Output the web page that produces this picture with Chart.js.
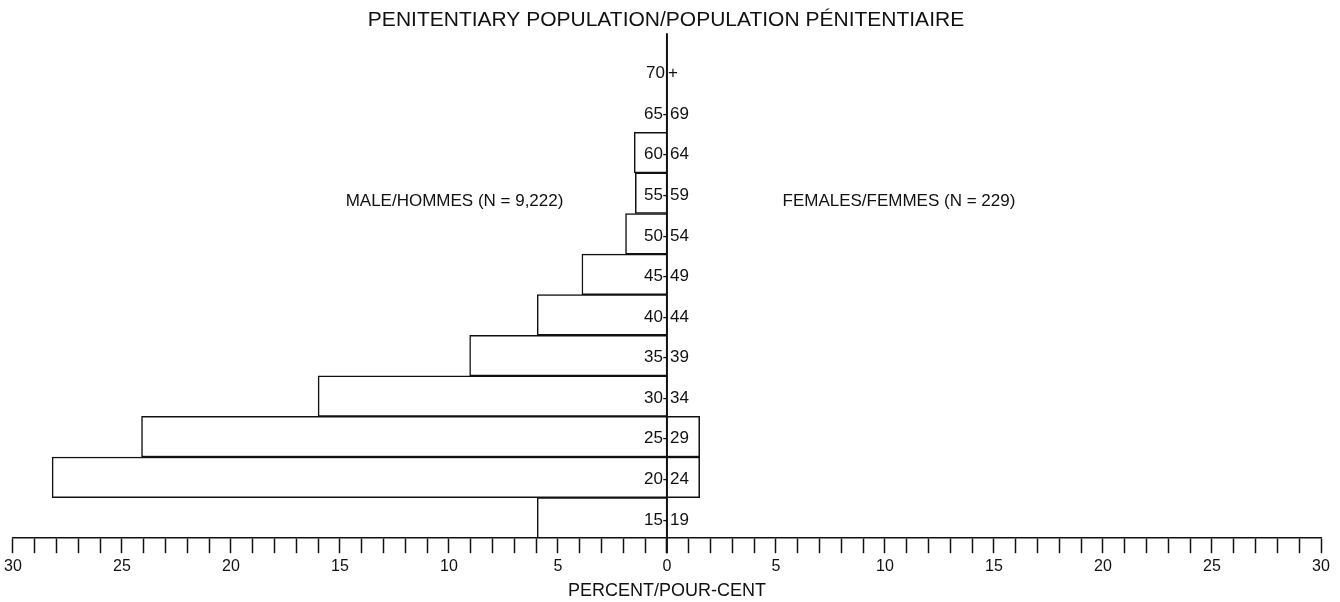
<!DOCTYPE html>
<html>
<head>
<meta charset="utf-8">
<title>Penitentiary population</title>
<script src="https://cdn.jsdelivr.net/npm/chart.js"></script>
<style>
  body { margin: 0; background: #fff; }
</style>
</head>
<body>
<canvas id="chart" width="1340" height="602"></canvas>
<script>
// age groups, top to bottom
const ageGroups = ['70+', '65-69', '60-64', '55-59', '50-54', '45-49', '40-44', '35-39', '30-34', '25-29', '20-24', '15-19'];
// percent of population
const malePercent = [0, 0, 1.5, 1.45, 1.9, 3.9, 5.95, 9.05, 16.0, 24.1, 28.2, 5.95];
const femalePercent = [0, 0, 0, 0, 0, 0, 0, 0, 0, 1.5, 1.5, 0];

const maleLabel = 'MALE/HOMMES (N = 9,222)';
const femaleLabel = 'FEMALES/FEMMES (N = 229)';

const FONT = '"Liberation Sans", Arial, Helvetica, sans-serif';
const INK = '#111';

// center line, age labels and the two group labels
const pyramidText = {
    id: 'pyramidText',
    afterDatasetsDraw(chart) {
        const ctx = chart.ctx;
        const x = chart.scales.x;
        const y = chart.scales.y;
        const cx = x.getPixelForValue(0);
        const area = chart.chartArea;

        ctx.save();
        ctx.strokeStyle = INK;
        ctx.lineWidth = 2;
        ctx.beginPath();
        ctx.moveTo(cx, area.top - 18);
        ctx.lineTo(cx, area.bottom + 15);
        ctx.stroke();

        ctx.fillStyle = INK;
        ctx.font = '17px ' + FONT;
        ctx.textBaseline = 'middle';
        ageGroups.forEach((g, i) => {
            const py = y.getPixelForValue(i) + 2;
            if (g.indexOf('-') > 0) {
                const parts = g.split('-');
                ctx.textAlign = 'right';
                ctx.fillText(parts[0], cx - 4, py);
                ctx.textAlign = 'center';
                ctx.fillText('-', cx - 1.5, py);
                ctx.textAlign = 'left';
                ctx.fillText(parts[1], cx + 3, py);
            } else {
                ctx.textAlign = 'right';
                ctx.fillText(g.replace('+', ''), cx - 2, py);
                ctx.textAlign = 'left';
                ctx.fillText('+', cx + 1, py);
            }
        });

        const ly = y.getPixelForValue(ageGroups.indexOf('55-59')) + 8;
        ctx.textAlign = 'right';
        ctx.fillText(maleLabel, x.getPixelForValue(-4.75), ly);
        ctx.textAlign = 'left';
        ctx.fillText(femaleLabel, x.getPixelForValue(5.3), ly);
        ctx.restore();
    }
};

const ctx = document.getElementById('chart');

new Chart(ctx, {
    type: 'bar',
    data: {
        labels: ageGroups,
        datasets: [{
            label: 'Male',
            data: malePercent.map(v => -v),
            backgroundColor: '#fff',
            borderColor: INK,
            borderWidth: 1.5,
            categoryPercentage: 1,
            barPercentage: 1
        }, {
            label: 'Female',
            data: femalePercent,
            backgroundColor: '#fff',
            borderColor: INK,
            borderWidth: 1.5,
            categoryPercentage: 1,
            barPercentage: 1
        }]
    },
    options: {
        indexAxis: 'y',
        responsive: false,
        animation: false,
        layout: { padding: { left: 11, right: 19, top: 0, bottom: 0 } },
        scales: {
            x: {
                type: 'linear',
                min: -30,
                max: 30,
                stacked: true,
                border: { display: true, color: INK, width: 1.5 },
                grid: {
                    drawOnChartArea: false,
                    drawTicks: true,
                    tickLength: 15,
                    tickColor: INK,
                    tickWidth: 1.5
                },
                ticks: {
                    stepSize: 1,
                    autoSkip: false,
                    maxRotation: 0,
                    padding: 4,
                    color: INK,
                    font: { family: FONT, size: 16 },
                    callback: (v) => (v % 5 === 0 ? String(Math.abs(v)) : '')
                },
                title: {
                    display: true,
                    text: 'PERCENT/POUR-CENT',
                    color: INK,
                    font: { family: FONT, size: 18 },
                    padding: { top: 0, bottom: 0 }
                }
            },
            y: {
                type: 'category',
                stacked: true,
                display: false
            }
        },
        plugins: {
            legend: { display: false },
            tooltip: { enabled: false },
            title: {
                display: true,
                text: 'PENITENTIARY POPULATION/POPULATION PÉNITENTIAIRE',
                color: INK,
                font: { family: FONT, size: 21, weight: 'normal' },
                padding: { top: 8, bottom: 18 }
            }
        }
    },
    plugins: [pyramidText]
});
</script>
</body>
</html>
